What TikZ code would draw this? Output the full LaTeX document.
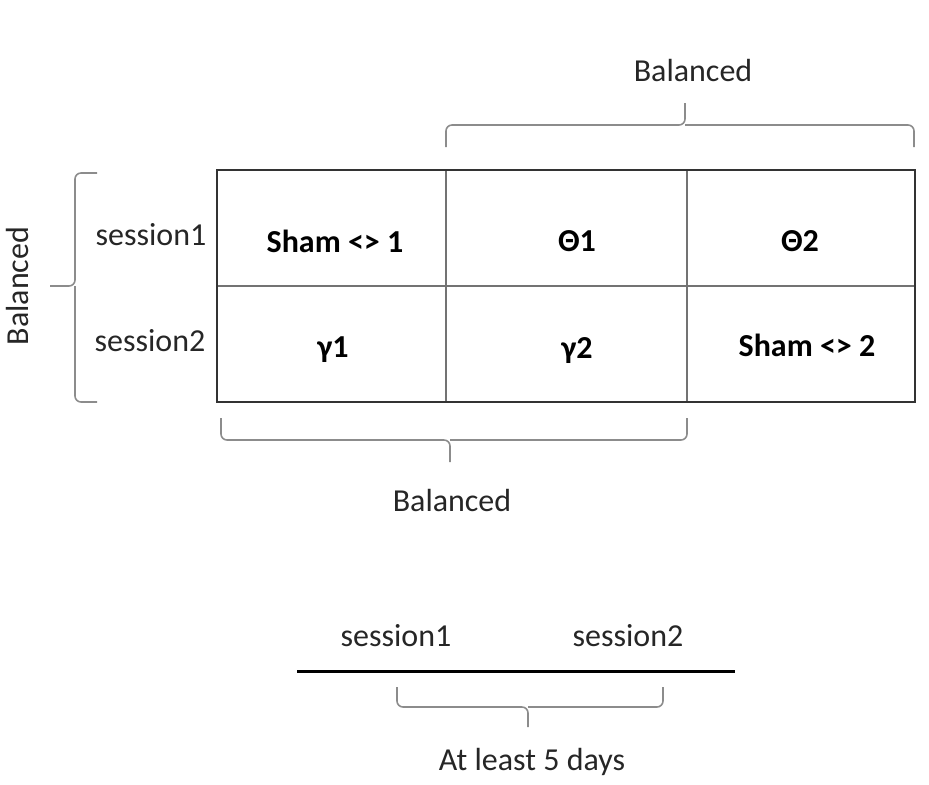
\documentclass[tikz,border=0pt]{standalone}
\usepackage{fontspec}
\setmainfont{Carlito}
\usetikzlibrary{positioning}
\tikzset{lbl/.style = {font=\fontsize{16}{19}\selectfont, text=black!85, inner sep=0}}
\tikzset{celltxt/.style = {font=\fontsize{16}{19}\selectfont\bfseries, inner sep=0}}
\tikzset{brc/.style = {draw=black!45, line width=0.8pt, rounded corners=3pt}}
\tikzset{grid/.style = {draw=black!55, line width=0.6pt}}

\begin{document}
\begin{tikzpicture}[x=0.5pt, y=-0.5pt]
    \useasboundingbox (0, 0) rectangle (929, 784);

    % table
    \draw [grid] (446, 170) -- (446, 402);
    \draw [grid] (687, 170) -- (687, 402);
    \draw [grid] (217, 286) -- (915, 286);
    \draw [draw=black!80, line width=1pt] (217, 170) rectangle (915, 402);

    \node [lbl] (ses1) at (151, 235) {session1};
    \node [lbl] (ses2) at (150, 341) {session2};

    \node [celltxt] (sham1) at (335, 241) {Sham <> 1};
    \node [celltxt] (th1) at (577, 241) {Θ1};
    \node [celltxt] (th2) at (800, 241) {Θ2};
    \node [celltxt] (ga1) at (333, 350) {γ1};
    \node [celltxt] (ga2) at (577, 350) {γ2};
    \node [celltxt] (sham2) at (807, 345) {Sham <> 2};

    % braces
    \draw [brc] (97, 173) -- (75, 173) -- (75, 286) -- (50, 286);
    \draw [brc] (75, 286) -- (75, 402) -- (97, 402);
    \node [lbl, rotate=90] (balL) at (18, 286) {Balanced};

    \draw [brc] (446, 147) -- (446, 125) -- (685, 125) -- (685, 103);
    \draw [brc] (685, 125) -- (914, 125) -- (914, 147);
    \node [lbl] (balT) at (693, 70) {Balanced};

    \draw [brc] (221, 418) -- (221, 440) -- (450, 440) -- (450, 462);
    \draw [brc] (450, 440) -- (687, 440) -- (687, 418);
    \node [lbl] (balB) at (452, 500) {Balanced};

    % time line
    \node [lbl] (t1) at (396, 636) {session1};
    \node [lbl] (t2) at (628, 636) {session2};
    \draw [black, line width=1.5pt] (297, 671) -- (735, 671);
    \draw [brc] (397, 687) -- (397, 707) -- (528, 707) -- (528, 727);
    \draw [brc] (528, 707) -- (663, 707) -- (663, 687);
    \node [lbl] (days) at (532, 762) {At least 5 days};
\end{tikzpicture}
\end{document}
